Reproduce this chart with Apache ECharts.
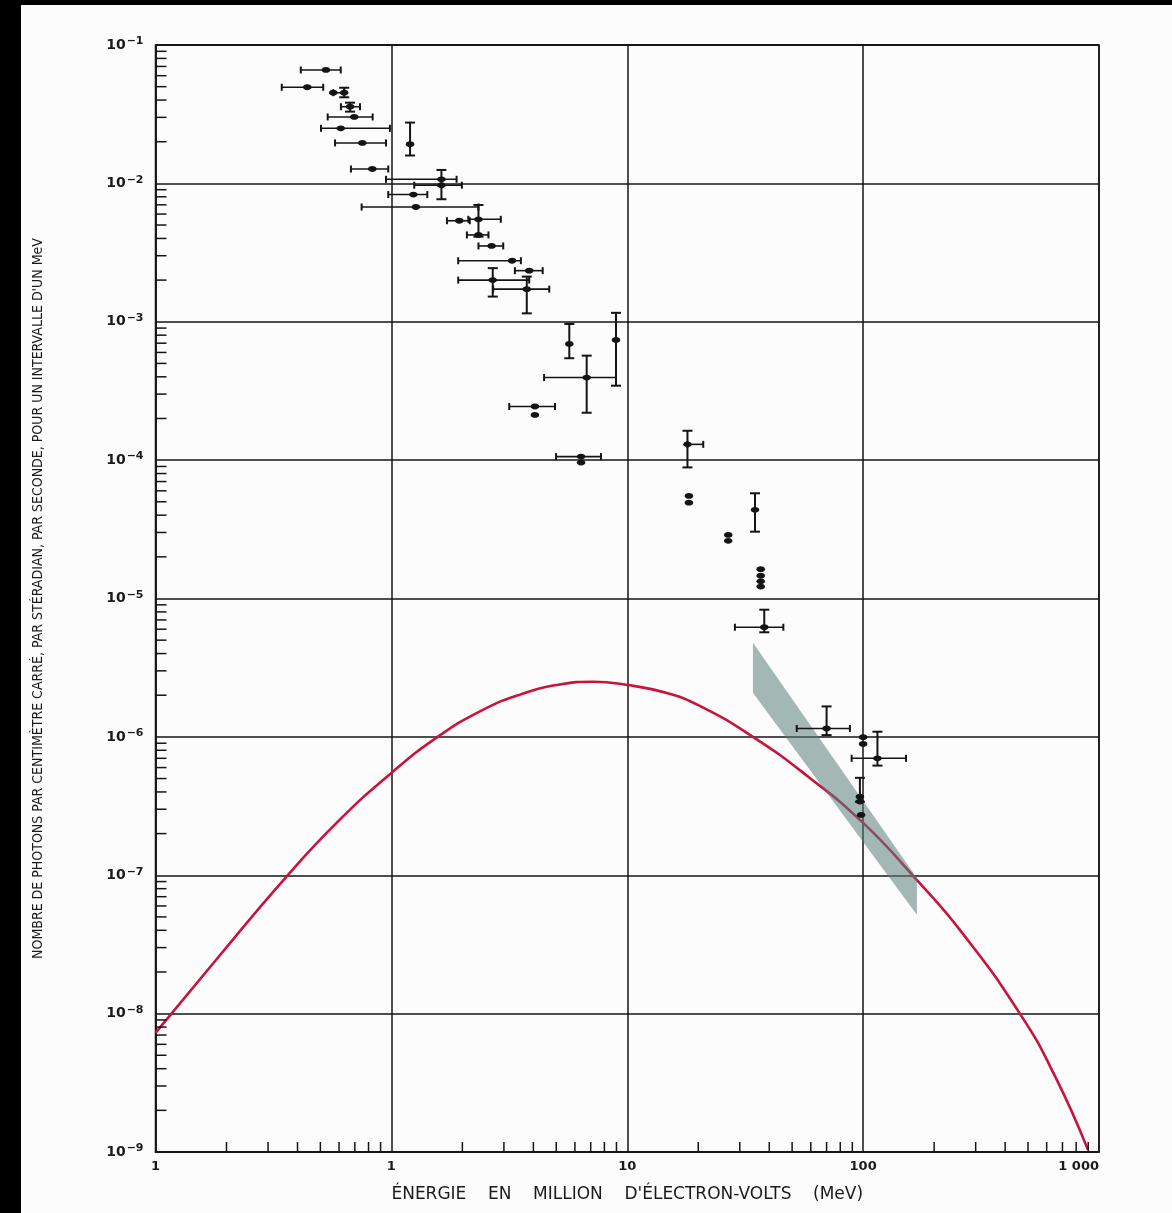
<!DOCTYPE html>
<html><head><meta charset="utf-8">
<script src="https://cdn.jsdelivr.net/npm/echarts@6/dist/echarts.min.js"></script>
<style>
html,body{margin:0;padding:0;background:#000;width:1172px;height:1213px;overflow:hidden}
#c{position:absolute;left:21px;top:5px;width:1151px;height:1208px;background:#fcfcfc}
</style>
</head><body><div id="c"></div>
<script>
// ---- axes ----
const xTickValues = [0.1, 1, 10, 100, 1000];
const xTickLabels = ['1', '1', '10', '100', '1 000'];
const yTickExponents = [-9, -8, -7, -6, -5, -4, -3, -2, -1];
const minorMultipliers = [2, 3, 4, 5, 6, 7, 8, 9];

// ---- theoretical curve (red) ----
const curveX = [0.1, 0.1875, 0.354, 0.6, 1.0, 1.561, 2.375, 3.51, 5.18, 7.16, 9.87, 14.6, 20.3, 34.1, 58.3, 100, 165.8, 265, 462, 650, 897];
const curveY = [7.26e-9, 2.64e-8, 9.5e-8, 2.49e-7, 5.49e-7, 9.92e-7, 1.53e-6, 2.02e-6, 2.39e-6, 2.5e-6, 2.38e-6, 2.08e-6, 1.675e-6, 1.0e-6, 5.18e-7, 2.39e-7, 9.57e-8, 3.77e-8, 1.0e-8, 3.55e-9, 1.04e-9];

// ---- measurements ----
const ptX = [0.528, 0.440, 0.567, 0.631, 0.668, 0.696, 0.610, 0.753, 1.20, 0.830,
             1.63, 1.63, 1.24, 1.27, 1.94, 2.34, 2.34, 2.66, 3.25, 3.84,
             2.69, 3.75, 5.68, 8.96, 6.73, 4.06, 4.06, 6.37, 6.37, 18.0,
             18.26, 18.26, 34.8, 26.8, 26.8, 36.8, 36.8, 36.8, 36.8, 38.1,
             70.0, 100, 100, 115, 96.9, 96.9, 98];
const ptY = [0.066, 0.0495, 0.0452, 0.0452, 0.0358, 0.0302, 0.025, 0.0196, 0.0192, 0.0127,
             0.0107, 0.0097, 0.0083, 0.00675, 0.00537, 0.0055, 0.00424, 0.00353, 0.00276, 0.00234,
             0.0020, 0.00172, 6.91e-4, 7.39e-4, 3.95e-4, 2.44e-4, 2.12e-4, 1.06e-4, 9.6e-5, 1.30e-4,
             5.51e-5, 4.93e-5, 4.37e-5, 2.88e-5, 2.61e-5, 1.63e-5, 1.46e-5, 1.33e-5, 1.22e-5, 6.2e-6,
             1.15e-6, 9.95e-7, 8.9e-7, 7.0e-7, 3.7e-7, 3.41e-7, 2.73e-7];
const xLo = [0.413, 0.343, 0.567, null, 0.611, 0.537, 0.503, 0.577, null, 0.674,
             0.949, 1.25, 0.97, 0.748, 1.72, 2.12, 2.09, 2.34, 1.92, 3.34,
             1.92, 2.70, null, null, 4.44, 3.16, null, 4.99, null, 18.0,
             null, null, null, null, null, null, null, null, null, 28.6,
             52.3, null, null, 89.4, null, null, null];
const xHi = [0.610, 0.514, 0.631, null, 0.736, 0.833, 0.986, 0.949, null, 0.970,
             1.89, 1.99, 1.42, 2.34, 2.15, 2.91, 2.58, 2.98, 3.54, 4.38,
             3.84, 4.67, null, null, 8.96, 4.94, null, 7.74, null, 21.0,
             null, null, null, null, null, null, null, null, null, 45.9,
             87.9, null, null, 152, null, null, null];
const yLo = [null, null, null, 0.0419, 0.033, null, null, null, 0.0159, null,
             0.00768, null, null, null, null, 0.00412, null, null, null, null,
             0.00152, 0.00115, 5.45e-4, 3.45e-4, 2.2e-4, null, null, null, null, 8.86e-5,
             null, null, 3.04e-5, null, null, null, null, null, null, 5.7e-6,
             1.03e-6, null, null, 6.2e-7, 3.4e-7, null, null];
const yHi = [null, null, null, 0.0491, 0.0383, null, null, null, 0.0275, null,
             0.0125, null, null, null, null, 0.00698, null, null, null, null,
             0.00244, 0.00212, 9.64e-4, 1.16e-3, 5.69e-4, null, null, null, null, 1.63e-4,
             null, null, 5.76e-5, null, null, null, null, null, null, 8.3e-6,
             1.66e-6, null, null, 1.09e-6, 5.06e-7, null, null];

// ---- shaded band (polygon vertices) ----
const bandX = [34.1, 169, 169, 34.1];
const bandY = [4.78e-6, 9.57e-8, 5.18e-8, 2.08e-6];

const X_MIN = 0.1, X_MAX = 1000, Y_MIN = 1e-9, Y_MAX = 1e-1;

const xMinor = [], yMinor = [];
for (let e = -1; e < 3; e++) minorMultipliers.forEach(m => xMinor.push([m * Math.pow(10, e), Y_MIN]));
for (let e = -9; e < -1; e++) minorMultipliers.forEach(m => yMinor.push([X_MIN, m * Math.pow(10, e)]));

const INK = '#141414';
const LBL = 'DejaVu Sans, sans-serif';
const chart = echarts.init(document.getElementById('c'), null, {renderer: 'canvas'});

function renderErr(params, api) {
  const i = params.dataIndex;
  const c = api.coord([ptX[i], ptY[i]]);
  const ch = [];
  if (xLo[i] != null) {
    const a = api.coord([xLo[i], ptY[i]]), b = api.coord([xHi[i], ptY[i]]);
    ch.push({type: 'line', shape: {x1: a[0], y1: c[1], x2: b[0], y2: c[1]}, style: {stroke: INK, lineWidth: 1.6}});
    ch.push({type: 'line', shape: {x1: a[0], y1: c[1] - 3.5, x2: a[0], y2: c[1] + 3.5}, style: {stroke: INK, lineWidth: 2}});
    ch.push({type: 'line', shape: {x1: b[0], y1: c[1] - 3.5, x2: b[0], y2: c[1] + 3.5}, style: {stroke: INK, lineWidth: 2}});
  }
  if (yLo[i] != null) {
    const a = api.coord([ptX[i], yLo[i]]), b = api.coord([ptX[i], yHi[i]]);
    ch.push({type: 'line', shape: {x1: c[0], y1: a[1], x2: c[0], y2: b[1]}, style: {stroke: INK, lineWidth: 2}});
    ch.push({type: 'line', shape: {x1: c[0] - 5, y1: a[1], x2: c[0] + 5, y2: a[1]}, style: {stroke: INK, lineWidth: 2}});
    ch.push({type: 'line', shape: {x1: c[0] - 5, y1: b[1], x2: c[0] + 5, y2: b[1]}, style: {stroke: INK, lineWidth: 2}});
  }
  ch.push({type: 'ellipse', shape: {cx: c[0], cy: c[1], rx: 4.3, ry: 2.9}, style: {fill: INK}});
  return {type: 'group', children: ch};
}

const option = {
  animation: false,
  backgroundColor: '#fcfcfc',
  grid: {left: 134.5, top: 40, right: 73, bottom: 61, show: true, borderColor: INK, borderWidth: 1.5, backgroundColor: 'transparent'},
  xAxis: {
    type: 'log', logBase: 10, min: X_MIN, max: X_MAX, splitNumber: 10,
    axisLine: {show: true, lineStyle: {color: INK, width: 1.5}},
    axisTick: {show: false},
    splitLine: {show: true, lineStyle: {color: INK, width: 1.5}},
    axisLabel: {
      margin: 8, color: '#1a1a1a', fontSize: 13, fontWeight: 'bold', fontFamily: LBL,
      showMinLabel: true, showMaxLabel: true, alignMaxLabel: 'right',
      formatter: v => xTickLabels[Math.round(Math.log10(v)) + 1]
    },
    name: 'ÉNERGIE    EN    MILLION    D\'ÉLECTRON-VOLTS    (MeV)',
    nameLocation: 'middle', nameGap: 34,
    nameTextStyle: {color: '#1a1a1a', fontSize: 17, fontFamily: 'DejaVu Sans, sans-serif'}
  },
  yAxis: {
    type: 'log', logBase: 10, min: Y_MIN, max: Y_MAX, splitNumber: 10,
    axisLine: {show: true, lineStyle: {color: INK, width: 1.5}},
    axisTick: {show: false},
    splitLine: {show: true, lineStyle: {color: INK, width: 1.5}},
    axisLabel: {
      margin: 12, color: '#1a1a1a', fontFamily: LBL,
      showMinLabel: true, showMaxLabel: true,
      formatter: v => '{b|10}{s|\u2212' + (-Math.round(Math.log10(v))) + '}',
      rich: {
        b: {fontSize: 14, fontWeight: 'bold', color: '#1a1a1a', fontFamily: LBL},
        s: {fontSize: 11, fontWeight: 'bold', color: '#1a1a1a', verticalAlign: 'top', padding: [0, 0, 7, 1], fontFamily: LBL}
      }
    },
    name: 'NOMBRE DE PHOTONS PAR CENTIMÈTRE CARRÉ, PAR STÉRADIAN, PAR SECONDE, POUR UN INTERVALLE D\'UN MeV',
    nameLocation: 'middle', nameRotate: 90, nameGap: 110,
    nameTextStyle: {color: '#1a1a1a', fontSize: 14, fontFamily: 'DejaVu Sans Condensed, sans-serif'}
  },
  series: [
    {
      type: 'custom', name: 'xminor', data: xMinor, clip: false, silent: true, z: 5,
      renderItem: (p, api) => {
        const c = api.coord([api.value(0), api.value(1)]);
        return {type: 'line', shape: {x1: c[0], y1: c[1], x2: c[0], y2: c[1] - 10}, style: {stroke: INK, lineWidth: 1.5}};
      }
    },
    {
      type: 'custom', name: 'yminor', data: yMinor, clip: false, silent: true, z: 5,
      renderItem: (p, api) => {
        const c = api.coord([api.value(0), api.value(1)]);
        return {type: 'line', shape: {x1: c[0], y1: c[1], x2: c[0] + 11, y2: c[1]}, style: {stroke: INK, lineWidth: 1.5}};
      }
    },
    {
      type: 'line', name: 'curve', data: curveX.map((x, i) => [x, curveY[i]]),
      smooth: 0.5, symbol: 'none', clip: true, z: 3,
      lineStyle: {color: '#c8143c', width: 2.6}
    },
    {
      type: 'custom', name: 'band', data: [[bandX[0], bandY[0]]], z: 4, silent: true,
      renderItem: (p, api) => ({
        type: 'polygon',
        shape: {points: bandX.map((x, i) => api.coord([x, bandY[i]]))},
        style: {fill: 'rgba(90,125,120,0.55)'}
      })
    },
    {
      type: 'custom', name: 'data', data: ptX.map((x, i) => [x, ptY[i]]), z: 6,
      renderItem: renderErr
    }
  ]
};
chart.setOption(option);
</script>
</body></html>
